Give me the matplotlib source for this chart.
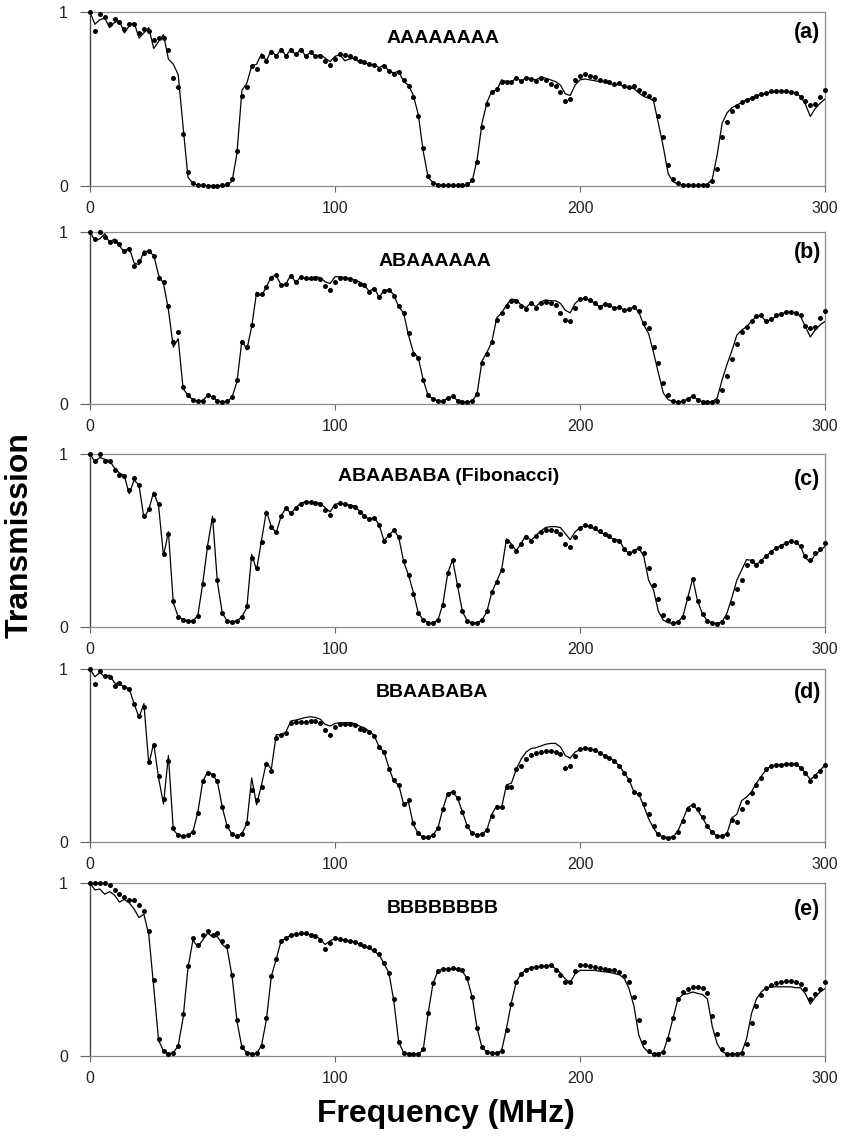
import numpy as np
import matplotlib
matplotlib.use("Agg")
import matplotlib.pyplot as plt

plt.rcParams["font.family"] = ["Liberation Sans", "DejaVu Sans"]

# frequency grid in MHz, shared by every panel
FREQ = np.arange(0, 301, 2)

SEQUENCES = ["AAAAAAAA", "ABAAAAAA", "ABAABABA (Fibonacci)", "BBAABABA", "BBBBBBBB"]
PANEL_TAGS = ["(a)", "(b)", "(c)", "(d)", "(e)"]

# (a) AAAAAAAA
A_THEORY = [
    1.00, 0.93, 0.955, 0.965, 0.91, 0.94, 0.95, 0.88, 0.92, 0.94,
    0.85, 0.88, 0.91, 0.79, 0.83, 0.87, 0.73, 0.70, 0.64, 0.34,
    0.05, 0.015, 0.005, 0.002, 0.002, 0.002, 0.002, 0.002, 0.006, 0.027,
    0.19, 0.55, 0.59, 0.69, 0.70, 0.76, 0.72, 0.78, 0.745, 0.79,
    0.745, 0.79, 0.75, 0.79, 0.745, 0.77, 0.745, 0.755, 0.735, 0.715,
    0.745, 0.755, 0.72, 0.73, 0.735, 0.71, 0.715, 0.695, 0.70, 0.68,
    0.695, 0.66, 0.65, 0.66, 0.60, 0.58, 0.52, 0.41, 0.20, 0.05,
    0.02, 0.008, 0.003, 0.003, 0.003, 0.003, 0.003, 0.008, 0.03, 0.15,
    0.36, 0.48, 0.545, 0.55, 0.61, 0.60, 0.595, 0.625, 0.60, 0.625,
    0.615, 0.61, 0.625, 0.62, 0.61, 0.60, 0.58, 0.53, 0.52, 0.58,
    0.61, 0.615, 0.61, 0.605, 0.60, 0.60, 0.59, 0.58, 0.585, 0.57,
    0.565, 0.56, 0.535, 0.515, 0.505, 0.49, 0.36, 0.225, 0.07, 0.025,
    0.01, 0.005, 0.004, 0.004, 0.004, 0.005, 0.01, 0.04, 0.18, 0.36,
    0.42, 0.45, 0.465, 0.48, 0.495, 0.505, 0.52, 0.525, 0.535, 0.54,
    0.54, 0.545, 0.54, 0.54, 0.535, 0.515, 0.47, 0.40, 0.445, 0.475,
    0.50,
]
A_MEASURED = [
    1.00, 0.89, 0.99, 0.97, 0.93, 0.96, 0.94, 0.90, 0.93, 0.93,
    0.88, 0.90, 0.89, 0.84, 0.85, 0.85, 0.78, 0.62, 0.57, 0.30,
    0.08, 0.02, 0.006, 0.003, 0.002, 0.002, 0.002, 0.003, 0.01, 0.04,
    0.20, 0.52, 0.57, 0.69, 0.67, 0.75, 0.72, 0.77, 0.75, 0.78,
    0.75, 0.78, 0.76, 0.78, 0.75, 0.77, 0.75, 0.75, 0.72, 0.695,
    0.73, 0.76, 0.755, 0.745, 0.735, 0.72, 0.71, 0.70, 0.695, 0.675,
    0.69, 0.66, 0.645, 0.655, 0.61, 0.575, 0.51, 0.40, 0.22, 0.06,
    0.02, 0.008, 0.004, 0.003, 0.003, 0.003, 0.004, 0.01, 0.035, 0.14,
    0.34, 0.47, 0.54, 0.555, 0.60, 0.595, 0.60, 0.62, 0.605, 0.62,
    0.615, 0.605, 0.62, 0.61, 0.585, 0.575, 0.54, 0.49, 0.50, 0.61,
    0.63, 0.645, 0.635, 0.625, 0.61, 0.605, 0.595, 0.585, 0.59, 0.575,
    0.57, 0.575, 0.55, 0.535, 0.52, 0.50, 0.40, 0.28, 0.12, 0.04,
    0.015, 0.006, 0.004, 0.004, 0.004, 0.005, 0.008, 0.03, 0.10, 0.28,
    0.37, 0.43, 0.46, 0.48, 0.495, 0.505, 0.52, 0.53, 0.535, 0.545,
    0.545, 0.545, 0.545, 0.54, 0.535, 0.51, 0.49, 0.465, 0.47, 0.51,
    0.55,
]

# (b) ABAAAAAA
B_THEORY = [
    1.00, 0.95, 0.96, 0.99, 0.94, 0.96, 0.92, 0.885, 0.91, 0.82,
    0.81, 0.89, 0.885, 0.865, 0.75, 0.70, 0.55, 0.33, 0.38, 0.09,
    0.05, 0.025, 0.015, 0.02, 0.05, 0.04, 0.018, 0.012, 0.015, 0.04,
    0.13, 0.37, 0.315, 0.45, 0.65, 0.63, 0.68, 0.74, 0.75, 0.69,
    0.70, 0.75, 0.705, 0.74, 0.73, 0.725, 0.74, 0.735, 0.71, 0.70,
    0.74, 0.74, 0.735, 0.73, 0.72, 0.71, 0.69, 0.655, 0.675, 0.62,
    0.66, 0.665, 0.635, 0.565, 0.53, 0.40, 0.30, 0.27, 0.14, 0.05,
    0.03, 0.018, 0.015, 0.035, 0.045, 0.02, 0.012, 0.012, 0.015, 0.06,
    0.25, 0.30, 0.36, 0.50, 0.53, 0.575, 0.61, 0.605, 0.575, 0.56,
    0.59, 0.565, 0.595, 0.605, 0.60, 0.60, 0.585, 0.545, 0.53, 0.585,
    0.61, 0.61, 0.605, 0.585, 0.566, 0.58, 0.575, 0.556, 0.565, 0.545,
    0.55, 0.565, 0.535, 0.46, 0.41, 0.30, 0.18, 0.064, 0.025, 0.015,
    0.012, 0.015, 0.03, 0.046, 0.025, 0.013, 0.01, 0.012, 0.035, 0.14,
    0.23, 0.31, 0.40, 0.43, 0.45, 0.48, 0.51, 0.51, 0.48, 0.49,
    0.51, 0.52, 0.535, 0.535, 0.53, 0.51, 0.45, 0.39, 0.43, 0.46,
    0.48,
]
B_MEASURED = [
    1.00, 0.96, 1.00, 0.97, 0.94, 0.95, 0.93, 0.89, 0.90, 0.80,
    0.83, 0.88, 0.89, 0.86, 0.73, 0.71, 0.57, 0.36, 0.42, 0.10,
    0.05, 0.025, 0.015, 0.02, 0.05, 0.04, 0.018, 0.012, 0.015, 0.04,
    0.14, 0.36, 0.33, 0.46, 0.64, 0.64, 0.68, 0.735, 0.75, 0.69,
    0.70, 0.745, 0.71, 0.74, 0.73, 0.73, 0.735, 0.725, 0.685, 0.665,
    0.71, 0.735, 0.73, 0.725, 0.715, 0.70, 0.69, 0.65, 0.67, 0.62,
    0.655, 0.66, 0.63, 0.57, 0.53, 0.41, 0.29, 0.265, 0.14, 0.05,
    0.03, 0.018, 0.015, 0.035, 0.045, 0.02, 0.012, 0.012, 0.015, 0.06,
    0.24, 0.29, 0.36, 0.49, 0.53, 0.57, 0.60, 0.60, 0.57, 0.555,
    0.585, 0.56, 0.59, 0.595, 0.585, 0.575, 0.53, 0.49, 0.48, 0.56,
    0.61, 0.615, 0.605, 0.585, 0.566, 0.58, 0.575, 0.556, 0.565, 0.545,
    0.55, 0.565, 0.54, 0.47, 0.44, 0.33, 0.24, 0.12, 0.05, 0.02,
    0.012, 0.015, 0.03, 0.046, 0.025, 0.013, 0.01, 0.012, 0.02, 0.08,
    0.16, 0.26, 0.35, 0.42, 0.45, 0.48, 0.51, 0.515, 0.485, 0.495,
    0.515, 0.525, 0.535, 0.535, 0.53, 0.515, 0.455, 0.44, 0.45, 0.50,
    0.54,
]

# (c) ABAABABA (Fibonacci)
C_THEORY = [
    1.00, 0.955, 0.98, 0.97, 0.96, 0.92, 0.89, 0.875, 0.77, 0.85,
    0.82, 0.63, 0.68, 0.78, 0.70, 0.41, 0.55, 0.14, 0.06, 0.043,
    0.037, 0.037, 0.065, 0.25, 0.47, 0.64, 0.26, 0.08, 0.035, 0.03,
    0.035, 0.06, 0.11, 0.42, 0.33, 0.50, 0.67, 0.58, 0.545, 0.64,
    0.69, 0.655, 0.69, 0.715, 0.725, 0.72, 0.72, 0.715, 0.69, 0.665,
    0.71, 0.715, 0.71, 0.705, 0.70, 0.67, 0.645, 0.62, 0.635, 0.59,
    0.50, 0.53, 0.56, 0.52, 0.38, 0.30, 0.20, 0.08, 0.042, 0.025,
    0.023, 0.04, 0.13, 0.31, 0.39, 0.24, 0.09, 0.035, 0.025, 0.025,
    0.04, 0.09, 0.20, 0.265, 0.33, 0.51, 0.48, 0.44, 0.485, 0.53,
    0.50, 0.53, 0.555, 0.575, 0.58, 0.58, 0.575, 0.54, 0.505, 0.55,
    0.575, 0.585, 0.58, 0.565, 0.55, 0.535, 0.52, 0.505, 0.505, 0.45,
    0.425, 0.44, 0.457, 0.41, 0.27, 0.215, 0.09, 0.04, 0.025, 0.02,
    0.03, 0.06, 0.17, 0.28, 0.15, 0.075, 0.035, 0.025, 0.02, 0.03,
    0.08, 0.17, 0.27, 0.33, 0.39, 0.385, 0.36, 0.385, 0.41, 0.435,
    0.457, 0.47, 0.485, 0.495, 0.49, 0.465, 0.40, 0.375, 0.42, 0.44,
    0.466,
]
C_MEASURED = [
    1.00, 0.96, 1.00, 0.96, 0.96, 0.91, 0.88, 0.87, 0.79, 0.86,
    0.82, 0.64, 0.68, 0.77, 0.71, 0.42, 0.54, 0.15, 0.06, 0.043,
    0.037, 0.037, 0.065, 0.25, 0.46, 0.62, 0.27, 0.08, 0.035, 0.03,
    0.035, 0.06, 0.12, 0.40, 0.34, 0.49, 0.66, 0.58, 0.55, 0.64,
    0.69, 0.66, 0.69, 0.71, 0.72, 0.72, 0.715, 0.71, 0.675, 0.65,
    0.70, 0.715, 0.71, 0.70, 0.695, 0.665, 0.64, 0.625, 0.63, 0.59,
    0.50, 0.53, 0.56, 0.52, 0.38, 0.30, 0.19, 0.08, 0.042, 0.025,
    0.023, 0.04, 0.13, 0.31, 0.39, 0.24, 0.09, 0.035, 0.025, 0.025,
    0.04, 0.09, 0.20, 0.26, 0.33, 0.50, 0.47, 0.44, 0.48, 0.52,
    0.50, 0.525, 0.55, 0.56, 0.56, 0.555, 0.54, 0.48, 0.465, 0.52,
    0.575, 0.59, 0.585, 0.57, 0.555, 0.54, 0.525, 0.505, 0.50, 0.45,
    0.43, 0.44, 0.455, 0.43, 0.34, 0.24, 0.16, 0.07, 0.04, 0.025,
    0.03, 0.06, 0.17, 0.28, 0.15, 0.075, 0.035, 0.025, 0.02, 0.03,
    0.06, 0.14, 0.22, 0.27, 0.36, 0.38, 0.36, 0.38, 0.41, 0.435,
    0.457, 0.47, 0.485, 0.495, 0.49, 0.47, 0.41, 0.385, 0.425, 0.45,
    0.485,
]

# (d) BBAABABA
D_THEORY = [
    1.00, 0.955, 0.98, 0.955, 0.965, 0.92, 0.91, 0.90, 0.885, 0.80,
    0.72, 0.80, 0.45, 0.57, 0.37, 0.22, 0.50, 0.07, 0.04, 0.033,
    0.04, 0.06, 0.17, 0.35, 0.405, 0.39, 0.35, 0.20, 0.09, 0.045,
    0.033, 0.048, 0.106, 0.37, 0.215, 0.33, 0.46, 0.42, 0.62, 0.62,
    0.637, 0.70, 0.705, 0.712, 0.72, 0.724, 0.72, 0.71, 0.68, 0.67,
    0.685, 0.69, 0.69, 0.69, 0.685, 0.67, 0.66, 0.64, 0.615, 0.55,
    0.52, 0.43, 0.35, 0.33, 0.22, 0.23, 0.10, 0.048, 0.028, 0.026,
    0.04, 0.08, 0.19, 0.28, 0.29, 0.255, 0.175, 0.09, 0.05, 0.04,
    0.045, 0.07, 0.16, 0.21, 0.20, 0.33, 0.34, 0.42, 0.48, 0.52,
    0.54, 0.545, 0.555, 0.565, 0.57, 0.57, 0.55, 0.50, 0.485, 0.52,
    0.535, 0.544, 0.54, 0.53, 0.515, 0.50, 0.485, 0.47, 0.44, 0.40,
    0.36, 0.29, 0.275, 0.21, 0.135, 0.08, 0.04, 0.03, 0.025, 0.03,
    0.065, 0.13, 0.20, 0.215, 0.185, 0.14, 0.09, 0.055, 0.035, 0.033,
    0.05, 0.14, 0.16, 0.24, 0.26, 0.29, 0.34, 0.38, 0.42, 0.44,
    0.445, 0.447, 0.45, 0.453, 0.45, 0.43, 0.40, 0.36, 0.385, 0.415,
    0.444,
]
D_MEASURED = [
    1.00, 0.915, 0.99, 0.96, 0.955, 0.90, 0.92, 0.895, 0.885, 0.80,
    0.73, 0.78, 0.46, 0.56, 0.38, 0.25, 0.47, 0.08, 0.04, 0.033,
    0.04, 0.06, 0.17, 0.35, 0.40, 0.385, 0.35, 0.20, 0.09, 0.045,
    0.033, 0.048, 0.11, 0.30, 0.24, 0.32, 0.45, 0.41, 0.60, 0.62,
    0.63, 0.69, 0.695, 0.695, 0.695, 0.697, 0.697, 0.69, 0.645, 0.62,
    0.665, 0.68, 0.683, 0.683, 0.675, 0.655, 0.645, 0.635, 0.61, 0.55,
    0.52, 0.42, 0.36, 0.33, 0.22, 0.24, 0.11, 0.05, 0.03, 0.028,
    0.04, 0.08, 0.19, 0.28, 0.29, 0.255, 0.175, 0.09, 0.05, 0.04,
    0.045, 0.07, 0.15, 0.20, 0.20, 0.32, 0.32, 0.42, 0.44, 0.48,
    0.505, 0.515, 0.52, 0.525, 0.525, 0.52, 0.51, 0.43, 0.44, 0.50,
    0.535, 0.544, 0.54, 0.53, 0.515, 0.50, 0.485, 0.47, 0.44, 0.40,
    0.36, 0.29, 0.28, 0.22, 0.16, 0.09, 0.045, 0.03, 0.025, 0.03,
    0.06, 0.12, 0.19, 0.215, 0.19, 0.145, 0.09, 0.055, 0.035, 0.033,
    0.045, 0.125, 0.115, 0.19, 0.23, 0.285, 0.33, 0.37, 0.42, 0.44,
    0.445, 0.447, 0.45, 0.453, 0.45, 0.43, 0.40, 0.355, 0.38, 0.41,
    0.444,
]

# (e) BBBBBBBB
E_THEORY = [
    1.00, 0.96, 0.965, 0.935, 0.95, 0.93, 0.89, 0.905, 0.885, 0.85,
    0.80, 0.82, 0.70, 0.40, 0.09, 0.03, 0.013, 0.018, 0.06, 0.22,
    0.51, 0.67, 0.63, 0.67, 0.71, 0.69, 0.69, 0.645, 0.62, 0.46,
    0.20, 0.05, 0.02, 0.013, 0.015, 0.06, 0.21, 0.46, 0.56, 0.665,
    0.68, 0.70, 0.703, 0.706, 0.707, 0.70, 0.695, 0.675, 0.645, 0.665,
    0.68, 0.675, 0.67, 0.665, 0.66, 0.645, 0.63, 0.625, 0.605, 0.585,
    0.535, 0.48, 0.32, 0.08, 0.02, 0.013, 0.012, 0.012, 0.035, 0.245,
    0.42, 0.49, 0.505, 0.50, 0.505, 0.50, 0.49, 0.445, 0.34, 0.16,
    0.05, 0.023, 0.018, 0.018, 0.03, 0.16, 0.31, 0.43, 0.475, 0.50,
    0.51, 0.515, 0.515, 0.52, 0.524, 0.505, 0.48, 0.445, 0.425, 0.475,
    0.495, 0.495, 0.495, 0.495, 0.49, 0.487, 0.483, 0.477, 0.47, 0.45,
    0.39, 0.29, 0.12, 0.05, 0.02, 0.012, 0.014, 0.025, 0.11, 0.22,
    0.33, 0.355, 0.36, 0.37, 0.362, 0.355, 0.33, 0.17, 0.07, 0.025,
    0.012, 0.01, 0.012, 0.02, 0.10, 0.245, 0.33, 0.37, 0.395, 0.40,
    0.40, 0.40, 0.40, 0.40, 0.395, 0.395, 0.36, 0.30, 0.34, 0.37,
    0.39,
]
E_MEASURED = [
    1.00, 1.00, 1.00, 1.00, 0.99, 0.96, 0.935, 0.92, 0.90, 0.90,
    0.87, 0.84, 0.72, 0.44, 0.10, 0.03, 0.013, 0.02, 0.06, 0.24,
    0.52, 0.68, 0.64, 0.70, 0.72, 0.70, 0.71, 0.665, 0.635, 0.47,
    0.21, 0.05, 0.02, 0.013, 0.015, 0.06, 0.22, 0.46, 0.56, 0.665,
    0.68, 0.70, 0.705, 0.71, 0.71, 0.70, 0.695, 0.67, 0.62, 0.655,
    0.68, 0.675, 0.67, 0.665, 0.66, 0.65, 0.635, 0.63, 0.61, 0.59,
    0.535, 0.48, 0.33, 0.08, 0.02, 0.013, 0.012, 0.012, 0.04, 0.25,
    0.42, 0.49, 0.505, 0.505, 0.51, 0.505, 0.495, 0.45, 0.34, 0.16,
    0.05, 0.023, 0.018, 0.018, 0.03, 0.15, 0.30, 0.43, 0.475, 0.50,
    0.51, 0.515, 0.52, 0.52, 0.524, 0.50, 0.47, 0.43, 0.43, 0.49,
    0.524, 0.528, 0.52, 0.515, 0.507, 0.503, 0.50, 0.497, 0.485, 0.465,
    0.43, 0.34, 0.21, 0.08, 0.03, 0.012, 0.014, 0.025, 0.10, 0.22,
    0.33, 0.37, 0.39, 0.40, 0.40, 0.395, 0.365, 0.23, 0.13, 0.04,
    0.012, 0.01, 0.012, 0.015, 0.07, 0.19, 0.29, 0.355, 0.395, 0.413,
    0.42, 0.428, 0.432, 0.432, 0.43, 0.418, 0.39, 0.33, 0.36, 0.39,
    0.43,
]

THEORY = [A_THEORY, B_THEORY, C_THEORY, D_THEORY, E_THEORY]
MEASURED = [A_MEASURED, B_MEASURED, C_MEASURED, D_MEASURED, E_MEASURED]

W, H = 841, 1148
# panel frames in pixels: (top, bottom)
frames = [(12, 186), (232, 404), (454, 627), (669, 842), (883, 1056)]
seq_pos = [(0.48, 0.85), (0.47, 0.826), (0.488, 0.87), (0.465, 0.867), (0.48, 0.855)]
tag_y = [0.885, 0.878, 0.85, 0.867, 0.844]

fig = plt.figure(figsize=(W / 100, H / 100), dpi=100)

for i, (top, bot) in enumerate(frames):
    ax = fig.add_axes([90 / W, 1 - bot / H, 735 / W, (bot - top) / H])
    ax.plot(FREQ, THEORY[i], color="black", lw=0.9, zorder=2)
    ax.plot(FREQ, MEASURED[i], "o", color="black", ms=3.6, mew=0,
            zorder=3, clip_on=False)

    ax.set_xlim(0, 300)
    ax.set_ylim(0, 1)
    ax.set_xticks([0, 100, 200, 300])
    ax.set_yticks([0, 1])
    ax.set_yticklabels(["0", "1"])
    ax.tick_params(axis="x", direction="out", length=4, width=0.8,
                   color="#666666", pad=7, labelsize=11.5, labelcolor="#222222")
    ax.tick_params(axis="y", direction="out", length=7, width=0.8,
                   color="#666666", pad=9, labelsize=11.5, labelcolor="#222222")
    for side in ["top", "right", "bottom"]:
        ax.spines[side].set_color("#8a8a8a")
        ax.spines[side].set_linewidth(0.9)
    ax.spines["left"].set_color("#444444")
    ax.spines["left"].set_linewidth(1.0)

    sx, sy = seq_pos[i]
    ax.text(sx, sy, SEQUENCES[i], transform=ax.transAxes, ha="center",
            va="center", fontsize=14, fontweight="bold")
    ax.text(0.976, tag_y[i], PANEL_TAGS[i], transform=ax.transAxes,
            ha="center", va="center", fontsize=15.5, fontweight="bold")

fig.text(20 / W, 1 - 535 / H, "Transmission", rotation=90, ha="center",
         va="center", fontsize=23, fontweight="bold")
fig.text(446 / W, 1 - 1114 / H, "Frequency (MHz)", ha="center",
         va="center", fontsize=23, fontweight="bold")

fig.savefig("out.png", dpi=100)
